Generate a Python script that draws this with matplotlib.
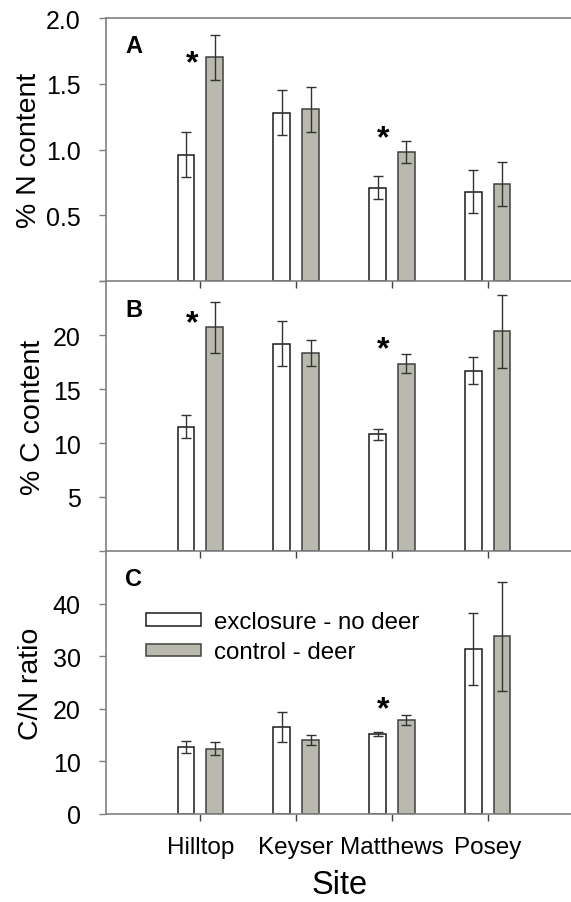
import matplotlib
matplotlib.use("Agg")
import matplotlib.pyplot as plt
import matplotlib.transforms as mtransforms
import numpy as np

plt.rcParams['font.family'] = ['Liberation Sans', 'DejaVu Sans']

sites = ["Hilltop", "Keyser", "Matthews", "Posey"]
series_names = ["exclosure - no deer", "control - deer"]

n_excl = [0.96, 1.28, 0.71, 0.68]
n_excl_err = [0.17, 0.17, 0.085, 0.165]
n_ctrl = [1.70, 1.306, 0.98, 0.738]
n_ctrl_err = [0.17, 0.17, 0.085, 0.17]

c_excl = [11.5, 19.2, 10.8, 16.7]
c_excl_err = [1.06, 2.1, 0.5, 1.25]
c_ctrl = [20.7, 18.3, 17.35, 20.35]
c_ctrl_err = [2.33, 1.2, 0.9, 3.4]

cn_excl = [12.7, 16.5, 15.15, 31.4]
cn_excl_err = [1.1, 2.8, 0.4, 6.9]
cn_ctrl = [12.4, 14.15, 17.85, 33.8]
cn_ctrl_err = [1.25, 0.95, 0.9, 10.4]

# significance markers: (site index, y value)
sig_n = [(0, 1.71), (2, 1.14)]
sig_c = [(0, 21.7), (2, 19.3)]
sig_cn = [(2, 21.3)]

W, H = 571, 903
fig = plt.figure(figsize=(W / 100, H / 100), dpi=100)

left_px, right_px = 105.6, 571
def ax_rect(top_px, bot_px):
    return [left_px / W, 1 - bot_px / H, (right_px - left_px) / W, (bot_px - top_px) / H]

axA = fig.add_axes(ax_rect(19, 282))
axB = fig.add_axes(ax_rect(282, 552))
axC = fig.add_axes(ax_rect(552, 815))

grey = '#b9b9ad'
spine_col = '#808080'
x = np.arange(1, len(sites) + 1)
bw = 0.175
off = 0.15
fs = 18

panels = [
    (axA, n_excl, n_excl_err, n_ctrl, n_ctrl_err, sig_n, (0, 2.0), [0, 0.5, 1.0, 1.5, 2.0],
     ['', '0.5', '1.0', '1.5', '2.0'], '% N content', 'A'),
    (axB, c_excl, c_excl_err, c_ctrl, c_ctrl_err, sig_c, (0, 25), [0, 5, 10, 15, 20, 25],
     ['', '5', '10', '15', '20', ''], '% C content', 'B'),
    (axC, cn_excl, cn_excl_err, cn_ctrl, cn_ctrl_err, sig_cn, (0, 50), [0, 10, 20, 30, 40],
     ['0', '10', '20', '30', '40'], 'C/N ratio', 'C'),
]

for ax, e, ee, c, ce, sig, ylim, yt, ytl, ylab, letter in panels:
    ekw = dict(ecolor='#333333', elinewidth=1.0, capthick=1.0)
    ax.bar(x - off, e, bw, yerr=ee, color='white', edgecolor='#1a1a1a', linewidth=1.1,
           capsize=3.6, error_kw=ekw, label=series_names[0], zorder=2)
    ax.bar(x + off, c, bw, yerr=ce, color=grey, edgecolor='#404040', linewidth=1.1,
           capsize=3.6, error_kw=ekw, label=series_names[1], zorder=2)
    ax.set_xlim(0.01, 4.87)
    ax.set_ylim(*ylim)
    ax.set_yticks(yt)
    ax.set_yticklabels(ytl, fontsize=fs)
    ax.set_xticks(x)
    ax.tick_params(axis='y', direction='out', length=5, width=1, color=spine_col, pad=13)
    ax.tick_params(axis='x', direction='out', length=5, width=1, color='#404040', pad=11)
    ax.spines['right'].set_visible(False)
    for s in ['left', 'bottom', 'top']:
        ax.spines[s].set_color(spine_col)
        ax.spines[s].set_linewidth(1.2)
    ax.set_ylabel(ylab, fontsize=20.5)
    ax.text(0.061, 0.895, letter, transform=ax.transAxes, fontsize=17, fontweight='bold',
            ha='center', va='center')
    tr = mtransforms.offset_copy(ax.transData, fig=fig, x=0, y=-7, units='dots')
    for i, yv in sig:
        ax.text(x[i] - 0.09, yv, '*', fontsize=23, fontweight='bold', ha='center',
                va='center', transform=tr)
    ax.patch.set_alpha(0)

axB.spines['top'].set_visible(False)
axC.spines['top'].set_visible(False)
axA.set_xticklabels([])
axB.set_xticklabels([])
axC.set_xticklabels(sites, fontsize=17.5)
axC.set_xlabel('Site', fontsize=23.5)

axA.yaxis.set_label_coords(-0.137, 0.5)
axB.yaxis.set_label_coords(-0.129, 0.5)
axC.yaxis.set_label_coords(-0.133, 0.5)
axC.xaxis.set_label_coords((340 - left_px) / (right_px - left_px), -0.21)

axC.legend(loc='upper left', bbox_to_anchor=(0.086, 0.772), frameon=False, fontsize=17.3,
           handlelength=2.3, handleheight=0.42, handletextpad=0.55, labelspacing=0.35,
           borderpad=0, borderaxespad=0)

fig.savefig('out.png', dpi=100)
